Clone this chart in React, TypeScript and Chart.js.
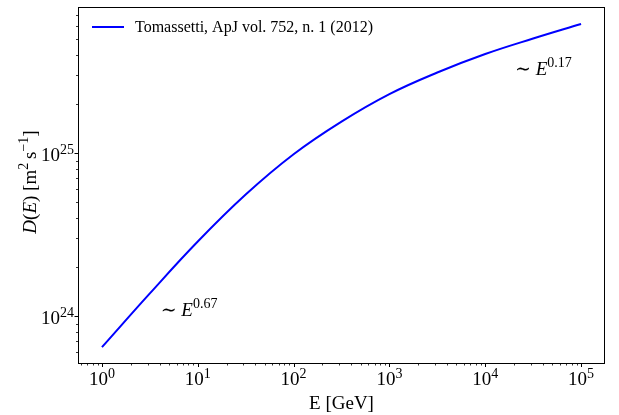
import React, { useEffect, useRef } from "react";
import { Chart, registerables } from "chart.js";

Chart.register(...registerables);

// Energy [GeV] and diffusion coefficient D(E) [m^2 s^-1]
const E_GEV = [1, 3.162, 10, 31.62, 100, 316.2, 1000, 3162, 10000, 31623, 100000];
const D_M2S = [6.46e23, 1.38e24, 2.87e24, 5.57e24, 9.84e24, 1.56e25, 2.30e25, 3.12e25, 4.05e25, 5.04e25, 6.19e25];

const SERIES_LABEL = "Tomassetti, ApJ vol. 752, n. 1 (2012)";

// axis ranges (log10)
const X_LOG_RANGE = [-0.25, 5.25];
const Y_LOG_RANGE = [23.713, 25.896];

// major tick exponents
const X_TICK_EXP = [0, 1, 2, 3, 4, 5];
const Y_TICK_EXP = [24, 25];

// slope annotations: anchor (E, D) and exponent text
const ANNOT_E = [4, 2e4];
const ANNOT_D = [1e24, 3e25];
const ANNOT_EXP = ["0.67", "0.17"];

const X_TITLE = "E [GeV]";

const FAMILY = "'Liberation Serif', 'DejaVu Serif', serif";

type Seg = { t: string; size: number; italic?: boolean; dy?: number };

function drawRich(ctx: CanvasRenderingContext2D, segs: Seg[], x: number, y: number, align: "left" | "center" | "right") {
  const widths = segs.map((s) => {
    ctx.font = `${s.italic ? "italic " : ""}${s.size}px ${FAMILY}`;
    return ctx.measureText(s.t).width;
  });
  const total = widths.reduce((a, b) => a + b, 0);
  let cx = align === "left" ? x : align === "center" ? x - total / 2 : x - total;
  ctx.textAlign = "left";
  ctx.textBaseline = "alphabetic";
  segs.forEach((s, i) => {
    ctx.font = `${s.italic ? "italic " : ""}${s.size}px ${FAMILY}`;
    ctx.fillText(s.t, cx, y - (s.dy || 0));
    cx += widths[i];
  });
}

function minorValues(lo: number, hi: number): { v: number; major: boolean }[] {
  const out: { v: number; major: boolean }[] = [];
  for (let k = Math.floor(lo) - 1; k <= Math.ceil(hi); k++) {
    for (let m = 1; m <= 9; m++) {
      const v = m * Math.pow(10, k);
      const lv = Math.log10(v);
      if (lv >= lo - 1e-9 && lv <= hi + 1e-9) out.push({ v, major: m === 1 });
    }
  }
  return out;
}

const decorPlugin = {
  id: "decor",
  afterDraw(chart: any) {
    const ctx: CanvasRenderingContext2D = chart.ctx;
    const { left, right, top, bottom } = chart.chartArea;
    const xs = chart.scales.x;
    const ys = chart.scales.y;
    ctx.save();
    ctx.fillStyle = "#000";
    ctx.strokeStyle = "#000";

    // frame
    ctx.lineWidth = 1;
    ctx.strokeRect(Math.round(left) + 0.5, Math.round(top) + 0.5, Math.round(right - left) - 1, Math.round(bottom - top));

    // x ticks
    minorValues(X_LOG_RANGE[0], X_LOG_RANGE[1]).forEach(({ v, major }) => {
      const px = Math.round(xs.getPixelForValue(v)) + 0.5;
      ctx.lineWidth = major ? 1 : 0.8;
      ctx.beginPath();
      ctx.moveTo(px, bottom + 0.5);
      ctx.lineTo(px, bottom + (major ? 4 : 2.5));
      ctx.stroke();
    });
    // y ticks
    minorValues(Y_LOG_RANGE[0], Y_LOG_RANGE[1]).forEach(({ v, major }) => {
      const py = Math.round(ys.getPixelForValue(v)) + 0.5;
      ctx.lineWidth = major ? 1 : 0.8;
      ctx.beginPath();
      ctx.moveTo(left + 0.5, py);
      ctx.lineTo(left - (major ? 3.5 : 2), py);
      ctx.stroke();
    });

    // x tick labels
    X_TICK_EXP.forEach((e) => {
      const px = xs.getPixelForValue(Math.pow(10, e));
      drawRich(ctx, [
        { t: "10", size: 19 },
        { t: String(e), size: 14, dy: 7 },
      ], px, bottom + 22, "center");
    });
    // y tick labels
    Y_TICK_EXP.forEach((e) => {
      const py = ys.getPixelForValue(Math.pow(10, e));
      drawRich(ctx, [
        { t: "10", size: 19 },
        { t: String(e), size: 14, dy: 7 },
      ], left - 4, py + 8, "right");
    });

    // x title
    drawRich(ctx, [{ t: X_TITLE, size: 19 }], (left + right) / 2, bottom + 46, "center");

    // y title (rotated)
    ctx.save();
    ctx.translate(left - 42, (top + bottom) / 2 - 3);
    ctx.rotate(-Math.PI / 2);
    drawRich(ctx, [
      { t: "D", size: 19, italic: true },
      { t: "(", size: 19 },
      { t: "E", size: 19, italic: true },
      { t: ") [m", size: 19 },
      { t: "2", size: 14, dy: 8 },
      { t: "\u2009s", size: 19 },
      { t: "\u22121", size: 14, dy: 8 },
      { t: "]", size: 19 },
    ], 0, 0, "center");
    ctx.restore();

    // annotations
    ANNOT_E.forEach((ev, i) => {
      const px = xs.getPixelForValue(ev);
      const py = ys.getPixelForValue(ANNOT_D[i]);
      drawRich(ctx, [
        { t: "\u223C ", size: 19 },
        { t: "E", size: 19, italic: true },
        { t: ANNOT_EXP[i], size: 14, dy: 8 },
      ], px + 1, py, "left");
    });

    // legend
    const ds = chart.data.datasets[0];
    ctx.strokeStyle = ds.borderColor;
    ctx.lineWidth = 2;
    ctx.beginPath();
    ctx.moveTo(left + 14, top + 20);
    ctx.lineTo(left + 46, top + 20);
    ctx.stroke();
    ctx.fillStyle = "#000";
    drawRich(ctx, [{ t: ds.label, size: 16 }], left + 57, top + 25, "left");

    ctx.restore();
  },
};

export default function App() {
  const ref = useRef<HTMLCanvasElement>(null);
  useEffect(() => {
    if (!ref.current) return;
    const chart = new Chart(ref.current, {
      type: "line",
      data: {
        datasets: [
          {
            label: SERIES_LABEL,
            data: E_GEV.map((e, i) => ({ x: e, y: D_M2S[i] })),
            borderColor: "#0000ff",
            borderWidth: 2,
            pointRadius: 0,
            tension: 0.4,
            fill: false,
          },
        ],
      },
      options: {
        responsive: false,
        animation: false,
        events: [],
        layout: { padding: { top: 7, right: 14, left: 0, bottom: 0 } },
        plugins: { legend: { display: false }, tooltip: { enabled: false } },
        scales: {
          x: {
            type: "logarithmic",
            min: Math.pow(10, X_LOG_RANGE[0]),
            max: Math.pow(10, X_LOG_RANGE[1]),
            ticks: { display: false },
            grid: { display: false },
            border: { display: false },
            afterFit: (s: any) => {
              s.height = 52;
            },
          },
          y: {
            type: "logarithmic",
            min: Math.pow(10, Y_LOG_RANGE[0]),
            max: Math.pow(10, Y_LOG_RANGE[1]),
            ticks: { display: false },
            grid: { display: false },
            border: { display: false },
            afterFit: (s: any) => {
              s.width = 78;
            },
          },
        },
      },
      plugins: [decorPlugin],
    } as any);
    return () => chart.destroy();
  }, []);
  return (
    <div style={{ position: "fixed", left: 0, top: 0, width: 619, height: 415, background: "#fff" }}>
      <canvas ref={ref} width={619} height={415} />
    </div>
  );
}
